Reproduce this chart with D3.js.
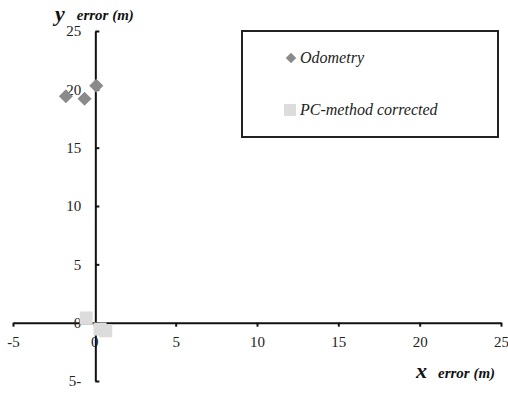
<!DOCTYPE html>
<html>
<head>
<meta charset="utf-8">
<script src="https://cdn.jsdelivr.net/npm/d3@7"></script>
</head>
<body style="margin:0">
<svg id="errplot" width="508" height="394" font-family="Times New Roman"></svg>
<script>
// Position error of the robot: odometry vs. PC-method corrected estimates
const odometryX = [-1.75, -0.6, 0.12];
const odometryY = [19.4, 19.2, 20.3];
const correctedX = [-0.5, 0.35, 0.7];
const correctedY = [0.4, -0.55, -0.7];
const xTicks = [-5, 0, 5, 10, 15, 20, 25];
const xTickLabels = ["-5", "0", "5", "10", "15", "20", "25"];
const yTicks = [-5, 0, 5, 10, 15, 20, 25];
const yTickLabels = ["5-", "0", "5", "10", "15", "20", "25"];
const seriesNames = ["Odometry", "PC-method corrected"];

const svg = d3.select("#errplot");
const x = d3.scaleLinear().domain([-5, 25]).range([13, 501]);
const y = d3.scaleLinear().domain([-5, 25]).range([381, 31]);

// Horizontal axis through y = 0, ticks below
const xAxis = d3.axisBottom(x).tickValues(xTicks).tickSize(4).tickSizeOuter(0).tickPadding(10)
  .tickFormat((d, i) => xTickLabels[i]);
const gx = svg.append("g").attr("transform", `translate(0,${y(0)})`).call(xAxis)
  .attr("font-family", "Times New Roman").attr("font-size", 15);
gx.select(".domain").attr("stroke", "#111").attr("stroke-width", 2);
gx.selectAll(".tick line").attr("stroke", "#111").attr("stroke-width", 2);
gx.selectAll(".tick text").attr("fill", "#222");

// Vertical axis through x = 0, ticks pointing right, labels on the left
const yAxis = d3.axisRight(y).tickValues(yTicks).tickSize(4).tickSizeOuter(0)
  .tickFormat((d, i) => yTickLabels[i]);
const gy = svg.append("g").attr("transform", `translate(${x(0) + 1},0)`).call(yAxis)
  .attr("font-family", "Times New Roman").attr("font-size", 15);
gy.select(".domain").attr("stroke", "#111").attr("stroke-width", 2);
gy.selectAll(".tick line").attr("stroke", "#111").attr("stroke-width", 2);
gy.selectAll(".tick text").attr("fill", "#222").attr("x", -14).attr("text-anchor", "end");

const diamond = d3.symbol().type(d3.symbolDiamond2).size(125);

// Corrected estimates (light squares, drawn over the axes)
svg.append("g").selectAll("rect")
  .data(correctedX.map((v, i) => [v, correctedY[i]]))
  .join("rect")
  .attr("x", d => x(d[0]) - 6.5)
  .attr("y", d => y(d[1]) - 6.5)
  .attr("width", 13).attr("height", 13)
  .attr("fill", "#dcdcdc");

// Odometry estimates (grey diamonds)
svg.append("g").selectAll("path")
  .data(odometryX.map((v, i) => [v, odometryY[i]]))
  .join("path")
  .attr("d", diamond)
  .attr("transform", d => `translate(${x(d[0])},${y(d[1])})`)
  .attr("fill", "#8a8a8a");

// Axis titles
const yTitle = svg.append("text").attr("x", 55).attr("y", 21)
  .attr("font-weight", "bold").attr("font-style", "italic").attr("fill", "#111");
yTitle.append("tspan").attr("font-size", 22).text("y");
yTitle.append("tspan").attr("font-size", 15).attr("dx", 12).attr("dy", -1).text("error (m)");

const xTitle = svg.append("text").attr("x", 416).attr("y", 378)
  .attr("font-weight", "bold").attr("font-style", "italic").attr("fill", "#111");
xTitle.append("tspan").attr("font-size", 22).text("x");
xTitle.append("tspan").attr("font-size", 15).attr("dx", 11).text("error (m)");

// Legend
const legend = svg.append("g");
legend.append("rect").attr("x", 242).attr("y", 31).attr("width", 256).attr("height", 106)
  .attr("fill", "#fff").attr("stroke", "#222").attr("stroke-width", 2);
legend.append("path").attr("d", d3.symbol().type(d3.symbolDiamond2).size(70))
  .attr("transform", "translate(291,58)").attr("fill", "#8a8a8a");
legend.append("rect").attr("x", 284).attr("y", 104).attr("width", 12).attr("height", 12)
  .attr("fill", "#dcdcdc");
legend.selectAll("text.entry").data(seriesNames).join("text")
  .attr("class", "entry")
  .attr("x", 300).attr("y", (d, i) => i ? 115 : 63)
  .attr("font-size", 16)
  .attr("font-style", "italic").attr("fill", "#222").text(d => d);
</script>
</body>
</html>
